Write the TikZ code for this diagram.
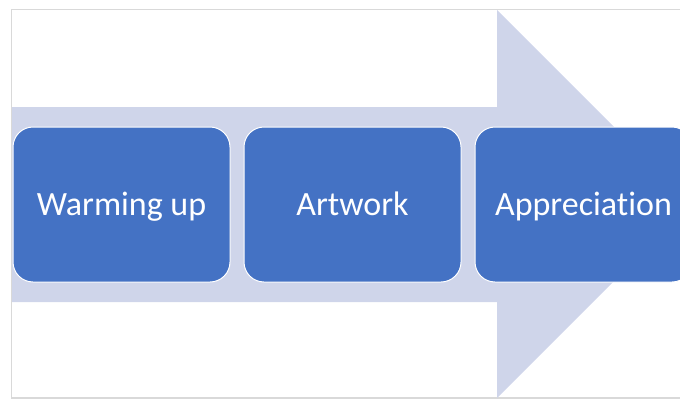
\documentclass[tikz,border=0pt]{standalone}
\usepackage{fontspec}
\setmainfont{Carlito}[Ligatures=NoCommon]
\usetikzlibrary{positioning}
\definecolor{stageblue}{HTML}{4472C4}
\definecolor{arrowlilac}{HTML}{CFD5EA}
\definecolor{framegray}{HTML}{D9D9D9}
\begin{document}
\begin{tikzpicture}[x=1pt,y=-1pt,node distance=13pt,
    stage/.style={draw=white,line width=1pt,fill=stageblue,rounded corners=20pt,
      minimum width=217pt,minimum height=155pt,inner sep=0pt,
      text=white,text height=22pt,text depth=0pt,font=\fontsize{34}{40}\selectfont}]
    \useasboundingbox (0,0) rectangle (680,399);
    \clip (0,0) rectangle (680,399);
    % frame
    \draw[framegray,line width=1.5pt] (11.5,9.5) rectangle (700,398);
    % big arrow behind the stages
    \fill[arrowlilac] (12,107)--(497,107)--(497,10)--(691,204)--(497,398)--(497,302)--(12,302)--cycle;
    % stages
    \node[stage] (warm) at (121.5,204.5) {Warming up};
    \node[stage,right=of warm] (art) {Artwork};
    \node[stage,right=of art] (appr) {Appreciation};
\end{tikzpicture}
\end{document}
